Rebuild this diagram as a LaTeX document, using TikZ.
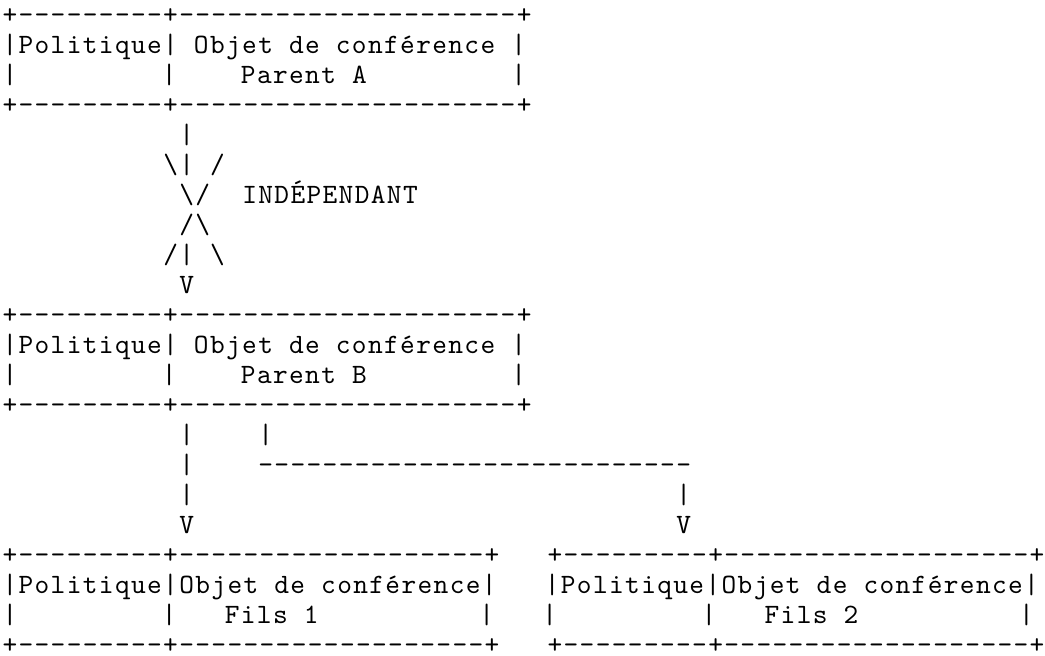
\documentclass[tikz,border=0pt]{standalone}
\usepackage{fontspec}
% slab-serif typewriter face, spaced to a 16.08pt character cell
\setmonofont[LetterSpace=4.9]{lmmono10-regular.otf}
\newlength{\cw}
\setlength{\cw}{16.08pt}
% n blank character cells
\newcommand{\blank}[1]{\hspace*{#1\cw}}
\newcommand{\bs}{\textbackslash}
\tikzset{
  asc/.style={anchor=base west, inner sep=0pt, outer sep=0pt,
              font=\ttfamily\fontsize{28}{30}\selectfont}
}
% one line of the chart, placed on its text row
\newcommand{\asciirow}[2]{\node[asc] (l#1) at (2.5,{23+30.0*(#1-1)}) {#2};}
\begin{document}
\begin{tikzpicture}[x=1pt,y=-1pt]
  \fill[white] (0,0) rectangle (1045,656);
  \useasboundingbox (0,0) rectangle (1045,656);
  % Parent A
  \asciirow{1}{+---------+---------------------+}
  \asciirow{2}{|Politique|\blank{1}Objet de conférence\blank{1}|}
  \asciirow{3}{|\blank{9}|\blank{4}Parent A\blank{9}|}
  \asciirow{4}{+---------+---------------------+}
  % independent link
  \asciirow{5}{\blank{11}|}
  \asciirow{6}{\blank{10}\bs|\blank{1}/}
  \asciirow{7}{\blank{11}\bs/\blank{2}INDÉPENDANT}
  \asciirow{8}{\blank{11}/\bs}
  \asciirow{9}{\blank{10}/|\blank{1}\bs}
  \asciirow{10}{\blank{11}V}
  % Parent B
  \asciirow{11}{+---------+---------------------+}
  \asciirow{12}{|Politique|\blank{1}Objet de conférence\blank{1}|}
  \asciirow{13}{|\blank{9}|\blank{4}Parent B\blank{9}|}
  \asciirow{14}{+---------+---------------------+}
  % links to the children
  \asciirow{15}{\blank{11}|\blank{4}|}
  \asciirow{16}{\blank{11}|\blank{4}---------------------------}
  \asciirow{17}{\blank{11}|\blank{30}|}
  \asciirow{18}{\blank{11}V\blank{30}V}
  % Fils 1 and Fils 2
  \asciirow{19}{+---------+-------------------+\blank{3}+---------+-------------------+}
  \asciirow{20}{|Politique|Objet de conférence|\blank{3}|Politique|Objet de conférence|}
  \asciirow{21}{|\blank{9}|\blank{3}Fils 1\blank{10}|\blank{3}|\blank{9}|\blank{3}Fils 2\blank{10}|}
  \asciirow{22}{+---------+-------------------+\blank{3}+---------+-------------------+}
\end{tikzpicture}
\end{document}
